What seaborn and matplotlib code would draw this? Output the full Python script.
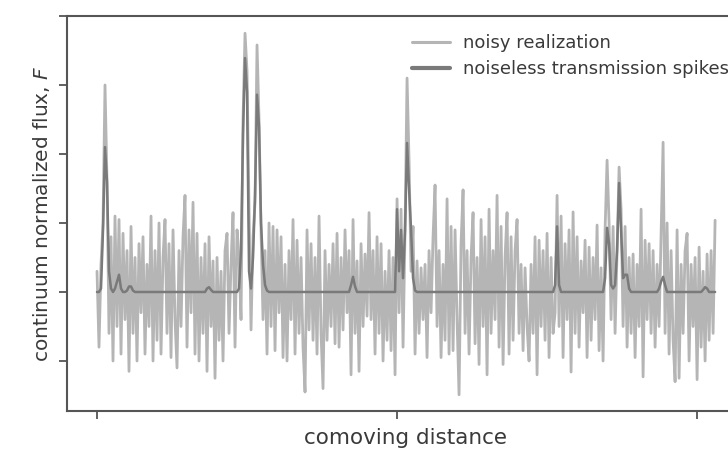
import numpy as np
import pandas as pd
import matplotlib
matplotlib.use("Agg")
import matplotlib.pyplot as plt
import seaborn as sns

# ---- data (one sample every ~2 px) ----
noisy_flux = [
    0.3, -0.8, 0.4, 1.0, 3.0, 1.6, -0.6, 0.8, -1.0, 1.1, -0.5, 1.05, -0.9, 0.85, -0.4, 0.6, -1.15, 0.95, -0.6, 0.5,
    -1.0, 0.7, -0.3, 0.8, -0.9, 0.4, -0.5, 1.1, -1.0, 0.6,
    -0.7, 1.0, -0.9, 0.5, 1.05, -0.6, 0.7, -0.95, 0.9, -0.4,
    -1.1, 0.6, -0.5, 0.8, 1.4, -0.8, 0.9, -0.3, 1.3, -0.9,
    0.85, -1.0, 0.5, -0.6, 0.7, -1.15, 0.8, -0.5, 0.45, -1.25,
    0.5, -0.7, 0.3, -1.0, 0.6, 0.85, -0.6, 0.4, 1.15, -0.8, 0.9,
    0.5, -0.4, 2.5, 3.75, 3.2, 1.2, -0.55, 0.8, 1.3, 3.58, 2.5, 0.9, -0.4, 0.6, -0.9,
    1.0, -0.5, 0.95, -0.85, 0.9, -0.3, 0.8, -0.95, 0.4, -1.0,
    0.6, -0.4, 1.05, -0.9, 0.75, -0.6, 0.5, -0.8, -1.45, 0.9,
    -0.55, 0.7, -0.7, 0.5, -0.9, 1.1, -0.6, -1.4, 0.6, -0.7,
    0.4, -0.5, 0.7, -0.75, 0.85, -0.8, 0.5, -0.55, 0.9, -0.3,
    0.6, -1.2, 1.05, -0.6, 0.45, -1.15, 0.7, -0.5, 0.55, -0.35,
    1.15, -0.4, 0.6, -0.9, 0.8, -0.6, 0.7, -1.0, 0.3, -0.7,
    0.6, -0.85, 0.5, -1.2,
    1.35, -0.3, 1.2, -0.8, 0.9, 3.1, 1.9, 0.3, 0.95, -0.9,
    0.45, -0.6, 0.35, -0.4, 0.4, -0.95, 0.6, -0.3, 0.8, 1.55,
    -0.5, 0.6, -0.95, 0.4, -0.7, 1.35, -0.9, 0.95, -0.85, 0.9,
    -0.4, -1.49, 0.7, 1.48, -0.6, 0.6, -0.9, 0.5, 1.15, -0.75,
    0.5, -1.05, 1.05, -0.5, 0.8, -1.2, 1.2, -0.6, 0.6, -0.4,
    1.4, -0.8, 0.95, -1.05, 0.5, 1.15, -0.9, 0.8, -0.7, 0.6,
    1.05, -0.6, 0.4, -0.85, 0.35, -0.5, -1.0, 0.4, -0.6, 0.8,
    -1.2, 0.75, -0.5, 0.6, -0.7, 0.85, -0.95, 0.5, -0.6,
    -0.3, 1.4,
    -0.5, 1.1, -0.95, 0.7, -0.4, 0.9, -1.16, 1.16, -0.6, 0.8,
    -0.8, 0.45, -0.3, 0.75, -0.95, 0.65, -0.7, 0.5, -0.4, 0.97,
    -0.85, 0.35, -1.0, 0.9, 1.91, 1.0, -0.4, 0.95, -0.6, 0.6,
    1.81, 1.2, -0.5, 0.95, -0.8, 0.5, -0.6, 0.55, -0.95, 0.4,
    -0.5, 1.2, -1.23, 0.75, -0.4, 0.7, -0.6, 0.6, -0.8, 0.4,
    -0.5, 0.8, 2.17, -0.6, 1.0, -0.9, 0.6, -0.7, -1.3, 0.9,
    -1.25, 0.4, -0.6, 0.6, 0.85, -1.0, 0.4, -0.5, 0.5, -1.27,
    0.65, -0.8, 0.3, -1.0, 0.55, -0.7, 0.6, -0.6, 1.04,
]

noiseless_flux = [
    0, 0, 0.05, 0.9, 2.1, 1.6, 0.3, 0.05, 0, 0.05, 0.15, 0.25, 0.05, 0, 0, 0.02, 0.08, 0.08, 0.02, 0,
    0, 0, 0, 0, 0, 0, 0, 0, 0, 0,
    0, 0, 0, 0, 0, 0, 0, 0, 0, 0,
    0, 0, 0, 0, 0, 0, 0, 0, 0, 0,
    0, 0, 0, 0, 0,
    0.05, 0.07, 0.03,
    0, 0, 0, 0, 0, 0, 0, 0, 0, 0, 0, 0, 0,
    0.05, 0.6, 2.3, 3.39, 2.9, 0.3, 0.05, 0.5, 1.4, 2.86, 2.4, 1.0, 0.4, 0.1, 0.02,
    0, 0, 0, 0, 0, 0, 0, 0, 0, 0,
    0, 0, 0, 0, 0, 0, 0, 0, 0, 0,
    0, 0, 0, 0, 0, 0, 0, 0, 0, 0,
    0, 0, 0, 0, 0, 0, 0, 0, 0, 0,
    0,
    0.1, 0.22, 0.08,
    0, 0, 0, 0, 0, 0, 0, 0, 0, 0,
    0, 0, 0, 0, 0, 0, 0, 0, 0, 0,
    1.2, 0.3, 0.9, 0.2, 0.9, 2.16, 1.5, 0.9, 0.2, 0.02,
    0, 0, 0, 0, 0, 0, 0, 0, 0, 0,
    0, 0, 0, 0, 0, 0, 0, 0, 0, 0,
    0, 0, 0, 0, 0, 0, 0, 0, 0, 0,
    0, 0, 0, 0, 0, 0, 0, 0, 0, 0,
    0, 0, 0, 0, 0, 0, 0, 0, 0, 0,
    0, 0, 0, 0, 0, 0, 0, 0, 0, 0,
    0, 0, 0, 0, 0, 0, 0, 0, 0,
    0.1, 0.95, 0.1,
    0, 0, 0, 0, 0, 0, 0, 0, 0, 0,
    0, 0, 0, 0, 0, 0, 0, 0, 0, 0,
    0, 0,
    0.2, 0.93, 0.7, 0.1, 0.05, 0.1, 0.6, 1.58, 0.9, 0.2, 0.25, 0.25, 0.05,
    0, 0, 0, 0, 0, 0, 0, 0, 0, 0, 0, 0, 0, 0,
    0.05, 0.15, 0.22, 0.1,
    0, 0, 0, 0, 0, 0, 0, 0, 0, 0, 0, 0, 0, 0, 0, 0, 0, 0,
    0.03, 0.07, 0.05,
    0, 0, 0, 0,
]

labels = ["noisy realization", "noiseless transmission spikes"]
xlabel = "comoving distance"
ylabel = "continuum normalized flux, $F$"

assert len(noisy_flux) == len(noiseless_flux)
n = len(noisy_flux)
distance = np.arange(n) / 150.0  # evenly spaced sampling grid

df_noisy = pd.DataFrame({"distance": distance, "flux": noisy_flux})
df_clean = pd.DataFrame({"distance": distance, "flux": noiseless_flux})

sns.set_theme(style="ticks")
plt.rcParams["font.family"] = ["DejaVu Sans"]

fig = plt.figure(figsize=(7.28, 4.57), dpi=100)
ax = fig.add_axes([67 / 728, 1 - 411 / 457, (743 - 67) / 728, (411 - 16) / 457])

sns.lineplot(data=df_noisy, x="distance", y="flux", ax=ax, color="#b5b5b5",
             lw=2.0, estimator=None, label=labels[0])
sns.lineplot(data=df_clean, x="distance", y="flux", ax=ax, color="#7a7a7a",
             lw=1.8, estimator=None, label=labels[1])

ax.set_xlim(-0.1, 2.153)
ax.set_ylim(-1.725, 4.0)
ax.set_xticks([0, 1, 2])
ax.set_yticks([-1, 0, 1, 2, 3, 4])
ax.set_xticklabels([])
ax.set_yticklabels([])

text_color = "#3a3a3a"
spine_color = "#555555"
for s in ax.spines.values():
    s.set_color(spine_color)
    s.set_linewidth(1.5)
ax.tick_params(axis="both", direction="out", length=6, width=1.3, color=spine_color)

ax.set_xlabel(xlabel, fontsize=15.5, color=text_color, labelpad=3)
ax.set_ylabel(ylabel, fontsize=14.5, color=text_color, labelpad=1)

leg = ax.legend(loc="upper left", bbox_to_anchor=(396 / 728, 1 - 18 / 457),
                bbox_transform=fig.transFigure, frameon=False, fontsize=13,
                handlelength=2.1, handletextpad=0.7, labelspacing=0.45)
for t in leg.get_texts():
    t.set_color(text_color)
leg.get_lines()[0].set_linewidth(2.2)
leg.get_lines()[1].set_linewidth(3.0)

fig.savefig("out.png", dpi=100)
